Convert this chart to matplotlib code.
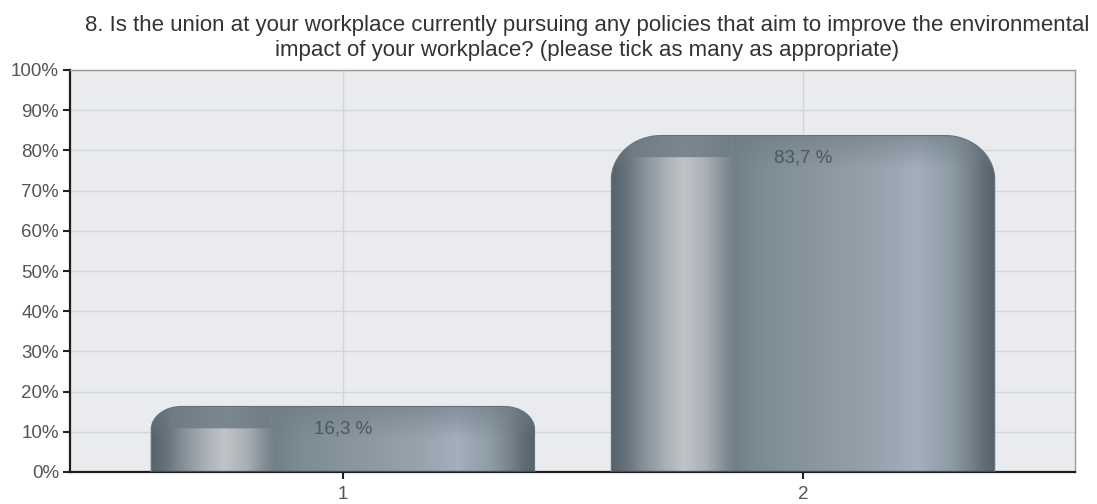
import matplotlib
matplotlib.use('Agg')
import matplotlib.pyplot as plt
import numpy as np
from matplotlib.path import Path
from matplotlib.patches import PathPatch
from matplotlib.colors import to_rgb

# survey answers (share of respondents, %)
categories = ['1', '2']
values = [16.3, 83.7]
value_labels = ['16,3 %', '83,7 %']
y_ticks = [0, 10, 20, 30, 40, 50, 60, 70, 80, 90, 100]
title = ('8. Is the union at your workplace currently pursuing any policies that aim to improve the environmental\n'
         'impact of your workplace? (please tick as many as appropriate)')

# metallic shading across the bar width
shade_stops = [(0.00, '#56626b'), (0.04, '#66727c'), (0.09, '#8a949c'), (0.14, '#a9b0b6'),
               (0.19, '#c0c4c8'), (0.25, '#a8afb5'), (0.29, '#86919a'), (0.32, '#72808a'),
               (0.40, '#7e8c96'), (0.55, '#8b98a2'), (0.70, '#97a4ae'), (0.80, '#a3afbb'),
               (0.88, '#909ea8'), (0.93, '#7a8791'), (0.97, '#626e77'), (1.00, '#56626b')]
top_colour = '#6e7c86'

plt.rcParams['font.family'] = ['Liberation Sans', 'DejaVu Sans']


def rounded_top(x0, x1, h, rx, ry):
    # rectangle with only the two top corners rounded
    k = 0.5523
    verts = [(x0, 0), (x0, h - ry),
             (x0, h - ry + ry * k), (x0 + rx - rx * k, h), (x0 + rx, h),
             (x1 - rx, h),
             (x1 - rx + rx * k, h), (x1, h - ry + ry * k), (x1, h - ry),
             (x1, 0), (x0, 0)]
    codes = [Path.MOVETO, Path.LINETO,
             Path.CURVE4, Path.CURVE4, Path.CURVE4,
             Path.LINETO,
             Path.CURVE4, Path.CURVE4, Path.CURVE4,
             Path.LINETO, Path.CLOSEPOLY]
    return Path(verts, codes)


def bar_image(h, band):
    W = 400
    H = max(int(h * 4), 4)
    xs = np.linspace(0, 1, W)
    pos = [s[0] for s in shade_stops]
    cols = np.array([to_rgb(c) for _, c in shade_stops])
    row = np.stack([np.interp(xs, pos, cols[:, i]) for i in range(3)], axis=-1)
    img = np.repeat(row[None, :, :], H, axis=0)
    depth = h - np.linspace(h, 0, H)
    left = (xs > 0.05) & (xs < 0.31)
    w = np.where(left[None, :],
                 np.where(depth[:, None] < band, 0.85, 0.0),
                 np.clip(1 - depth[:, None] / (band * 1.5), 0, 1) * 0.6)
    dark = np.array(to_rgb(top_colour))
    img = img * (1 - w[..., None]) + dark * w[..., None]
    return img


fig = plt.figure(figsize=(10.97, 5.04), dpi=100)
ax = fig.add_axes([70 / 1097, 32 / 504, 1005 / 1097, 402 / 504])
ax.set_facecolor('#e9ebee')

bar_width = 0.833
for i, v in enumerate(values):
    xc = i + 1
    x0, x1 = xc - bar_width / 2, xc + bar_width / 2
    ry = min(11.0, v * 0.35)
    rx = 0.088 * ry / 11.0 + 0.02
    path = rounded_top(x0, x1, v, rx, ry)
    patch = PathPatch(path, facecolor='none', edgecolor='#66727b', lw=0.8, zorder=3)
    ax.add_patch(patch)
    im = ax.imshow(bar_image(v, 5.5), extent=[x0, x1, 0, v], origin='upper',
                   aspect='auto', interpolation='bilinear', zorder=2)
    im.set_clip_path(patch)
    ax.text(xc, v - 5.5, value_labels[i], ha='center', va='center',
            fontsize=13.5, color='#4b5761', zorder=4)

ax.set_xlim(0.407, 2.591)
ax.set_ylim(0, 100)
ax.set_xticks([1, 2])
ax.set_xticklabels(categories)
ax.set_yticks(y_ticks)
ax.set_yticklabels([f'{t}%' for t in y_ticks])
ax.grid(True, color='#d3d6d9', lw=1)
ax.set_axisbelow(True)
ax.tick_params(direction='out', length=5, width=1.5, color='#222222',
               labelcolor='#555555', labelsize=13.5, pad=3)
ax.tick_params(axis='x', pad=5)

for side in ['left', 'bottom']:
    ax.spines[side].set_color('#1e1e1e')
    ax.spines[side].set_linewidth(1.6)
for side in ['top', 'right']:
    ax.spines[side].set_color('#9a9a9a')
    ax.spines[side].set_linewidth(1)

fig.text(587 / 1097, 1 - 38 / 504, title, ha='center', va='center',
         fontsize=16, color='#333333', linespacing=1.25)

fig.savefig('out.png', dpi=100)
